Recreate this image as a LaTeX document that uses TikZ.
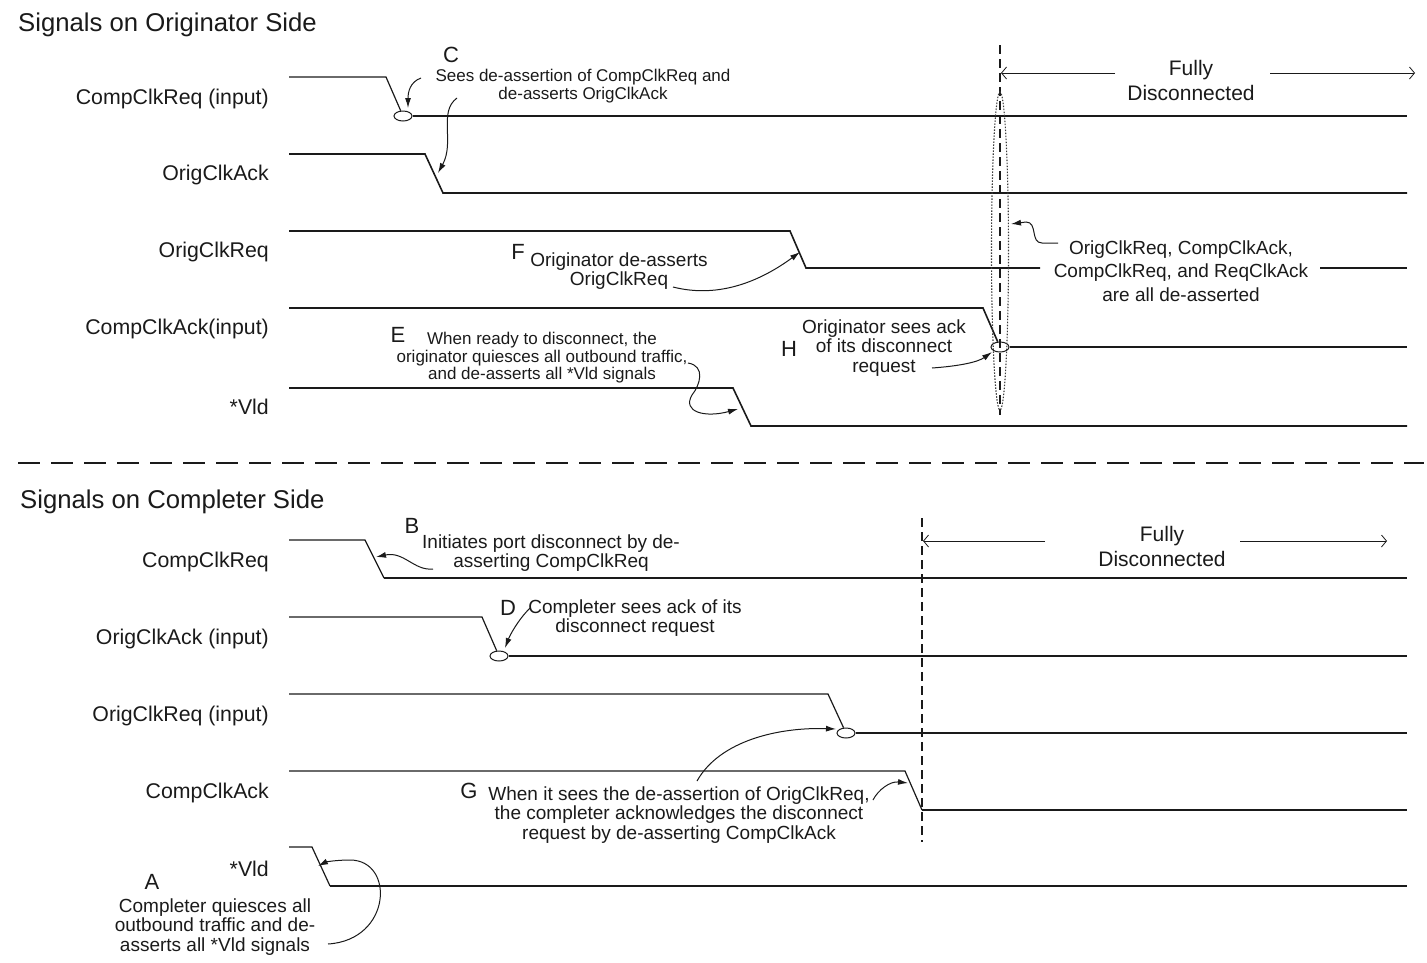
\documentclass[tikz,border=0pt]{standalone}
\usepackage{fontspec}
\setmainfont{Liberation Sans}
\usetikzlibrary{arrows.meta,shapes.geometric}
\definecolor{ink}{HTML}{1A1A1A}
\begin{document}
\begin{tikzpicture}[x=1pt,y=-1pt,
  every node/.style={text=ink},
  txt/.style={yshift=-2pt},
  sig/.style={line width=1.6pt, line join=miter, draw=ink},
  hi/.style={line width=1.2pt, draw=ink},
  lbl/.style={txt, font=\fontsize{21.3}{25}\selectfont, anchor=east, inner sep=0pt},
  ttl/.style={txt, font=\fontsize{25.7}{28}\selectfont, anchor=west, inner sep=0pt},
  note/.style={txt, font=\fontsize{19}{19.3}\selectfont, align=center, inner sep=0pt},
  snote/.style={txt, font=\fontsize{17}{17.5}\selectfont, align=center, inner sep=0pt},
  letter/.style={txt, font=\fontsize{22}{24}\selectfont, inner sep=0pt},
  pointer/.style={line width=1pt, draw=ink, -{Latex[length=10pt,width=6pt]}},
  marker/.style={draw=ink, ellipse, minimum width=18pt, minimum height=10pt, inner sep=0pt, line width=1pt},
  span/.style={line width=1pt, draw=ink, -{Straight Barb[length=5pt,width=12pt,line width=0.8pt]}},
  bound/.style={line width=1.5pt, draw=ink, dash pattern=on 9pt off 5pt},
]
\useasboundingbox (0,0) rectangle (1427,962);

% ---------------- Originator side ----------------
\node[ttl] (t1) at (18,23) {Signals on Originator Side};
\node[lbl] (l1) at (269,97) {CompClkReq (input)};
\node[lbl] (l2) at (269,173) {OrigClkAck};
\node[lbl] (l3) at (269,250) {OrigClkReq};
\node[lbl] (l4) at (269,327) {CompClkAck(input)};
\node[lbl] (l5) at (269,405) {*Vld};

\node[marker] (cC) at (403,116) {};
\node[marker] (cH) at (1000,347) {};

\draw[hi] (289,77) -- (386,77) -- (cC);
\draw[sig] (cC.east) -- (1407,116);
\draw[sig] (289,154) -- (425,154) -- (443,193) -- (1407,193);
\draw[sig] (289,231) -- (790,231) -- (806,268) -- (1040,268);
\draw[sig] (1320,268) -- (1407,268);
\draw[sig] (289,308) -- (983,308) -- (cH);
\draw[sig] (cH.east) -- (1407,347);
\draw[sig] (289,388) -- (733,388) -- (751,426) -- (1407,426);

% C
\node[letter] (LC) at (451,53) {C};
\node[snote] (nC) at (583,84) {Sees de-assertion of CompClkReq and\\de-asserts OrigClkAck};
\coordinate (c1s) at (421,78); \coordinate (c1t) at (408,108);
\coordinate (c2s) at (457,98); \coordinate (c2t) at (438,173);
\draw[pointer] (c1s) .. controls (410,82) and (408,92) .. (c1t);
\draw[pointer] (c2s) .. controls (438,112) and (455,142) .. (c2t);

% F
\node[letter] (LF) at (518,250) {F};
\node[note] (nF) at (619,269) {Originator de-asserts\\OrigClkReq};
\coordinate (fs) at (673,287); \coordinate (ft) at (800,252);
\draw[pointer] (fs) .. controls (720,299) and (762,280) .. (ft);

% E
\node[letter] (LE) at (398,333) {E};
\node[snote] (nE) at (542,356) {When ready to disconnect, the\\originator quiesces all outbound traffic,\\and de-asserts all *Vld signals};
\coordinate (es) at (688,363); \coordinate (et) at (738,409);
\draw[pointer] (es) .. controls (706,366) and (700,385) .. (692,395)
  .. controls (682,412) and (705,418) .. (et);

% H
\node[letter] (LH) at (789,347) {H};
\node[note] (nH) at (884,346) {Originator sees ack\\of its disconnect\\request};
\coordinate (hs) at (932,368); \coordinate (ht) at (992,352);
\draw[pointer] (hs) .. controls (960,366) and (978,362) .. (ht);

% fully disconnected (originator)
\coordinate (v1a) at (1000,45); \coordinate (v1b) at (1000,415);
\draw[bound] (v1a) -- (v1b);
\node[draw=ink!85, line width=1.1pt, dash pattern=on 1.5pt off 1.5pt, ellipse, minimum width=17pt, minimum height=318pt, inner sep=0pt] (big) at (1000,251) {};
\node[txt, font=\fontsize{21}{25}\selectfont, align=center, inner sep=0pt] (fd1) at (1191,78) {Fully\\Disconnected};
\coordinate (fd1l) at (1001,73); \coordinate (fd1r) at (1415,73);
\draw[span] (1115,73) -- (fd1l);
\draw[span] (1270,73) -- (fd1r);

\node[note, font=\fontsize{19}{23.5}\selectfont] (nN) at (1181,269) {OrigClkReq, CompClkAck,\\CompClkReq, and ReqClkAck\\are all de-asserted};
\coordinate (ns) at (1058,243); \coordinate (nt) at (1011,224);
\draw[pointer] (ns) -- (1042,243) .. controls (1030,243) and (1038,222) .. (1026,222) -- (nt);

% separator
\draw[ink, line width=1.2pt, dash pattern=on 22pt off 11pt] (18,463) -- (1424,463);

% ---------------- Completer side ----------------
\node[ttl] (t2) at (20,500) {Signals on Completer Side};
\node[lbl] (m1) at (269,560) {CompClkReq};
\node[lbl] (m2) at (269,637) {OrigClkAck (input)};
\node[lbl] (m3) at (269,714) {OrigClkReq (input)};
\node[lbl] (m4) at (269,791) {CompClkAck};
\node[lbl] (m5) at (269,867) {*Vld};

\node[marker] (cD) at (499,656) {};
\node[marker] (cG) at (846,733) {};

\draw[hi] (289,540) -- (365,540) -- (384,578);
\draw[sig] (384,578) -- (1407,578);
\draw[hi] (289,617) -- (482,617) -- (cD);
\draw[sig] (cD.east) -- (1407,656);
\draw[hi] (289,694) -- (828,694) -- (cG);
\draw[sig] (cG.east) -- (1407,733);
\draw[hi] (289,771) -- (905,771) -- (922,810);
\draw[sig] (922,810) -- (1407,810);
\draw[hi] (289,847) -- (312,847) -- (330,886);
\draw[sig] (330,886) -- (1407,886);

% B
\node[letter] (LB) at (412,524) {B};
\node[note] (nB) at (551,551) {Initiates port disconnect by de-\\asserting CompClkReq};
\coordinate (bs) at (433,569); \coordinate (bt) at (376,557);
\draw[pointer] (bs) .. controls (414,571) and (404,551) .. (bt);

% D
\node[letter] (LD) at (508,606) {D};
\node[note] (nD) at (635,616) {Completer sees ack of its\\disconnect request};
\coordinate (ds) at (530,608); \coordinate (dt) at (505,648);
\draw[pointer] (ds) .. controls (518,620) and (510,635) .. (dt);

% G
\node[letter] (LG) at (469,789) {G};
\node[note] (nG) at (679,813) {When it sees the de-assertion of OrigClkReq,\\the completer acknowledges the disconnect\\request by de-asserting CompClkAck};
\coordinate (g1s) at (697,781); \coordinate (g1t) at (836,729);
\coordinate (g2s) at (873,800); \coordinate (g2t) at (908,783);
\draw[pointer] (g1s) .. controls (720,740) and (780,727) .. (g1t);
\draw[pointer] (g2s) .. controls (878,790) and (890,781) .. (g2t);

% fully disconnected (completer)
\coordinate (v2a) at (922,518); \coordinate (v2b) at (922,842);
\draw[bound] (v2a) -- (v2b);
\node[txt, font=\fontsize{21}{25}\selectfont, align=center, inner sep=0pt] (fd2) at (1162,544) {Fully\\Disconnected};
\coordinate (fd2l) at (923,541); \coordinate (fd2r) at (1387,541);
\draw[span] (1045,541) -- (fd2l);
\draw[span] (1240,541) -- (fd2r);

% A
\node[letter] (LA) at (152,880) {A};
\node[note] (nA) at (215,925) {Completer quiesces all\\outbound traffic and de-\\asserts all *Vld signals};
\coordinate (as) at (328,944); \coordinate (atip) at (318,866);
\draw[pointer] (as) .. controls (392,940) and (395,860) .. (350,860)
  .. controls (336,860) and (326,862) .. (atip);
\end{tikzpicture}
\end{document}
